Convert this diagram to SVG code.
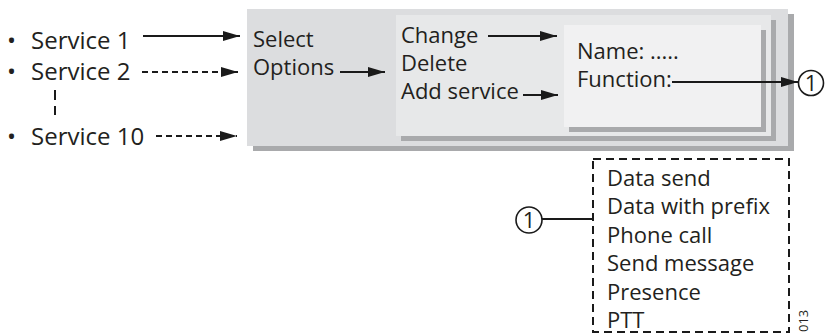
<svg xmlns="http://www.w3.org/2000/svg" width="827" height="334" viewBox="0 0 827 334">
<defs>
<marker id="ah" markerUnits="userSpaceOnUse" markerWidth="18" markerHeight="12" refX="17" refY="5" orient="auto">
<path d="M0,0 L17,5 L0,10 Z" fill="#1a1a1a"/>
</marker>
<style>
text{font-family:"Open Sans","Noto Sans","Liberation Sans",sans-serif;fill:#231f20;}
.t{font-size:22px;}
.s{font-size:24px;}
.shadow{fill:#a9aaac;}
.ln{stroke:#1a1a1a;stroke-width:2;fill:none;}
.dash{stroke-dasharray:6 4;}
.circ{fill:#fff;stroke:#1a1a1a;stroke-width:1.6;}
</style>
</defs>
<rect width="827" height="334" fill="#fff"/>

<g id="services">
<text class="s" y="49"><tspan x="7">•</tspan> <tspan x="31">Service 1</tspan></text>
<text class="s" y="80"><tspan x="7">•</tspan> <tspan x="31">Service 2</tspan></text>
<text class="s" y="145"><tspan x="7">•</tspan> <tspan x="31">Service 10</tspan></text>
</g>

<g id="outer-box">
<rect class="shadow" x="253" y="14" width="541" height="137"/>
<rect x="247" y="9" width="541" height="137" fill="#dcdddf"/>
<text class="t" x="253" y="47">Select</text>
<text class="t" x="253" y="75">Options</text>
</g>

<g id="middle-box">
<rect class="shadow" x="401" y="20" width="375" height="121"/>
<rect x="396" y="15" width="375" height="121" fill="#e7e8e9"/>
<text class="t" x="401" y="43">Change</text>
<text class="t" x="401" y="71">Delete</text>
<text class="t" x="401" y="99">Add service</text>
</g>

<g id="inner-box">
<rect class="shadow" x="569" y="30" width="197" height="102"/>
<rect x="564" y="25" width="197" height="102" fill="#f1f1f2"/>
<text class="t" x="577" y="59">Name: .....</text>
<text class="t" x="577" y="86.5">Function:</text>
</g>

<g id="ref-top">
<circle class="circ" cx="811" cy="83" r="12.5"/>
<text x="811" y="91" font-size="22" text-anchor="middle">1</text>
</g>

<g id="functions-box">
<rect x="593" y="159" width="196" height="173" fill="none" stroke="#1a1a1a" stroke-width="2" stroke-dasharray="8 5"/>
<text class="t" x="607" y="185.5">Data send</text>
<text class="t" x="607" y="214">Data with prefix</text>
<text class="t" x="607" y="242.5">Phone call</text>
<text class="t" x="607" y="271">Send message</text>
<text class="t" x="607" y="299.5">Presence</text>
<text class="t" x="607" y="328">PTT</text>
</g>

<g id="ref-bottom">
<circle class="circ" cx="529" cy="220" r="13"/>
<text x="529" y="228" font-size="22" text-anchor="middle">1</text>
</g>

<text x="808" y="332" font-size="13" transform="rotate(-90 808 332)">013</text>

<g id="connectors">
<line class="ln" x1="143" y1="36" x2="240" y2="36" marker-end="url(#ah)"/>
<line class="ln dash" x1="142" y1="72" x2="238" y2="72" marker-end="url(#ah)"/>
<line class="ln dash" x1="156" y1="136" x2="237" y2="136" marker-end="url(#ah)"/>
<line class="ln" x1="55" y1="90" x2="55" y2="115" stroke-dasharray="10 6"/>
<line class="ln" x1="340" y1="72" x2="385" y2="72" marker-end="url(#ah)"/>
<line class="ln" x1="488" y1="36" x2="557" y2="36" marker-end="url(#ah)"/>
<line class="ln" x1="523" y1="95" x2="558" y2="95" marker-end="url(#ah)"/>
<line class="ln" x1="672" y1="82" x2="798" y2="82" marker-end="url(#ah)"/>
<line class="ln" x1="542" y1="219" x2="593" y2="219"/>
</g>
</svg>
